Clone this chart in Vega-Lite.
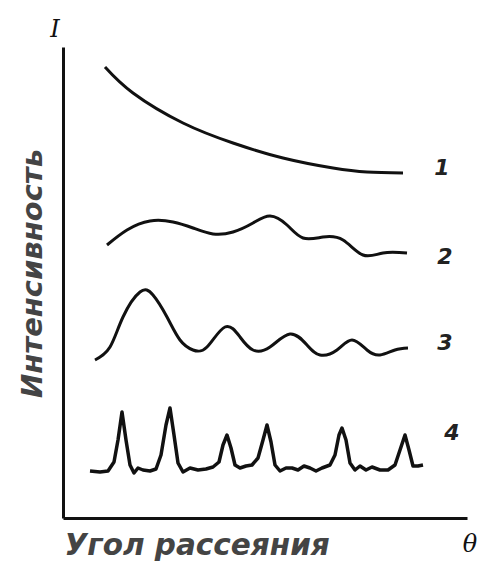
{
  "$schema": "https://vega.github.io/schema/vega-lite/v6.json",
  "width": 404,
  "height": 471,
  "autosize": {"type": "none"},
  "padding": {"left": 63, "top": 47, "right": 16, "bottom": 49},
  "background": "white",
  "config": {"view": {"stroke": null}},
  "datasets": {
    "curves": [
      {"curve": "1", "theta": 42, "I": 451},
      {"curve": "1", "theta": 70, "I": 425},
      {"curve": "1", "theta": 120, "I": 395},
      {"curve": "1", "theta": 170, "I": 375},
      {"curve": "1", "theta": 220, "I": 360},
      {"curve": "1", "theta": 270, "I": 350},
      {"curve": "1", "theta": 304, "I": 346},
      {"curve": "1", "theta": 340, "I": 345},
      {"curve": "2", "theta": 44, "I": 273},
      {"curve": "2", "theta": 64, "I": 288},
      {"curve": "2", "theta": 87, "I": 297},
      {"curve": "2", "theta": 110, "I": 296},
      {"curve": "2", "theta": 130, "I": 290},
      {"curve": "2", "theta": 150, "I": 284},
      {"curve": "2", "theta": 170, "I": 286},
      {"curve": "2", "theta": 190, "I": 295},
      {"curve": "2", "theta": 207, "I": 302},
      {"curve": "2", "theta": 224, "I": 293},
      {"curve": "2", "theta": 240, "I": 280},
      {"curve": "2", "theta": 260, "I": 281},
      {"curve": "2", "theta": 280, "I": 278},
      {"curve": "2", "theta": 300, "I": 263},
      {"curve": "2", "theta": 320, "I": 265},
      {"curve": "2", "theta": 344, "I": 265},
      {"curve": "3", "theta": 32, "I": 158},
      {"curve": "3", "theta": 47, "I": 171},
      {"curve": "3", "theta": 60, "I": 201},
      {"curve": "3", "theta": 77, "I": 226},
      {"curve": "3", "theta": 90, "I": 223},
      {"curve": "3", "theta": 104, "I": 201},
      {"curve": "3", "theta": 117, "I": 178},
      {"curve": "3", "theta": 130, "I": 168},
      {"curve": "3", "theta": 144, "I": 171},
      {"curve": "3", "theta": 162, "I": 191},
      {"curve": "3", "theta": 177, "I": 181},
      {"curve": "3", "theta": 190, "I": 168},
      {"curve": "3", "theta": 207, "I": 171},
      {"curve": "3", "theta": 227, "I": 184},
      {"curve": "3", "theta": 244, "I": 173},
      {"curve": "3", "theta": 257, "I": 163},
      {"curve": "3", "theta": 274, "I": 168},
      {"curve": "3", "theta": 289, "I": 178},
      {"curve": "3", "theta": 304, "I": 168},
      {"curve": "3", "theta": 317, "I": 163},
      {"curve": "3", "theta": 332, "I": 168},
      {"curve": "3", "theta": 345, "I": 170},
      {"curve": "4", "theta": 27, "I": 47},
      {"curve": "4", "theta": 37, "I": 46},
      {"curve": "4", "theta": 45, "I": 47},
      {"curve": "4", "theta": 51, "I": 56},
      {"curve": "4", "theta": 55, "I": 78},
      {"curve": "4", "theta": 59, "I": 106},
      {"curve": "4", "theta": 63, "I": 78},
      {"curve": "4", "theta": 67, "I": 53},
      {"curve": "4", "theta": 71, "I": 45},
      {"curve": "4", "theta": 75, "I": 50},
      {"curve": "4", "theta": 80, "I": 48},
      {"curve": "4", "theta": 87, "I": 47},
      {"curve": "4", "theta": 93, "I": 49},
      {"curve": "4", "theta": 98, "I": 63},
      {"curve": "4", "theta": 103, "I": 93},
      {"curve": "4", "theta": 107, "I": 110},
      {"curve": "4", "theta": 111, "I": 83},
      {"curve": "4", "theta": 115, "I": 55},
      {"curve": "4", "theta": 120, "I": 46},
      {"curve": "4", "theta": 127, "I": 50},
      {"curve": "4", "theta": 135, "I": 48},
      {"curve": "4", "theta": 143, "I": 49},
      {"curve": "4", "theta": 150, "I": 51},
      {"curve": "4", "theta": 156, "I": 56},
      {"curve": "4", "theta": 160, "I": 73},
      {"curve": "4", "theta": 164, "I": 83},
      {"curve": "4", "theta": 168, "I": 70},
      {"curve": "4", "theta": 172, "I": 53},
      {"curve": "4", "theta": 177, "I": 50},
      {"curve": "4", "theta": 183, "I": 52},
      {"curve": "4", "theta": 189, "I": 53},
      {"curve": "4", "theta": 195, "I": 60},
      {"curve": "4", "theta": 200, "I": 78},
      {"curve": "4", "theta": 204, "I": 93},
      {"curve": "4", "theta": 208, "I": 76},
      {"curve": "4", "theta": 212, "I": 53},
      {"curve": "4", "theta": 217, "I": 47},
      {"curve": "4", "theta": 223, "I": 50},
      {"curve": "4", "theta": 229, "I": 50},
      {"curve": "4", "theta": 235, "I": 48},
      {"curve": "4", "theta": 241, "I": 52},
      {"curve": "4", "theta": 247, "I": 50},
      {"curve": "4", "theta": 253, "I": 47},
      {"curve": "4", "theta": 259, "I": 50},
      {"curve": "4", "theta": 267, "I": 53},
      {"curve": "4", "theta": 272, "I": 63},
      {"curve": "4", "theta": 276, "I": 83},
      {"curve": "4", "theta": 279, "I": 90},
      {"curve": "4", "theta": 283, "I": 78},
      {"curve": "4", "theta": 287, "I": 55},
      {"curve": "4", "theta": 292, "I": 48},
      {"curve": "4", "theta": 297, "I": 52},
      {"curve": "4", "theta": 303, "I": 48},
      {"curve": "4", "theta": 309, "I": 51},
      {"curve": "4", "theta": 317, "I": 48},
      {"curve": "4", "theta": 325, "I": 48},
      {"curve": "4", "theta": 332, "I": 53},
      {"curve": "4", "theta": 337, "I": 68},
      {"curve": "4", "theta": 342, "I": 83},
      {"curve": "4", "theta": 346, "I": 68},
      {"curve": "4", "theta": 350, "I": 52},
      {"curve": "4", "theta": 355, "I": 52},
      {"curve": "4", "theta": 360, "I": 53}
    ],
    "labels": [
      {"text": "1", "theta": 379, "I": 350},
      {"text": "2", "theta": 382, "I": 261},
      {"text": "3", "theta": 382, "I": 175},
      {"text": "4", "theta": 389, "I": 85}
    ],
    "symbols": [
      {"text": "I", "theta": -8, "I": 488},
      {"text": "θ", "theta": 407, "I": -27}
    ]
  },
  "layer": [
    {
      "data": {"name": "curves"},
      "transform": [{"filter": "datum.curve != '4'"}],
      "mark": {"type": "line", "interpolate": "natural", "color": "#111111", "strokeWidth": 3, "clip": false},
      "encoding": {
        "x": {"field": "theta", "type": "quantitative", "scale": {"domain": [0, 404], "nice": false, "zero": false},
          "axis": {"domain": true, "domainColor": "#111111", "domainWidth": 3, "ticks": false, "labels": false, "grid": false,
            "title": "Угол рассеяния", "titleFont": "DejaVu Sans", "titleFontStyle": "italic", "titleFontWeight": "bold",
            "titleFontSize": 29.5, "titleColor": "#444444", "titleAlign": "left", "titleAnchor": "start", "titleBaseline": "middle",
            "titleX": 1, "titleY": 27}},
        "y": {"field": "I", "type": "quantitative", "scale": {"domain": [0, 471], "nice": false, "zero": false},
          "axis": {"domain": true, "domainColor": "#111111", "domainWidth": 3, "ticks": false, "labels": false, "grid": false,
            "title": "Интенсивность", "titleFont": "DejaVu Sans", "titleFontStyle": "italic", "titleFontWeight": "bold",
            "titleFontSize": 29, "titleColor": "#444444", "titleAngle": 270, "titleAlign": "center", "titleBaseline": "middle",
            "titleX": -31, "titleY": 226}},
        "detail": {"field": "curve"}
      }
    },
    {
      "data": {"name": "curves"},
      "transform": [{"filter": "datum.curve == '4'"}],
      "mark": {"type": "line", "interpolate": "linear", "color": "#111111", "strokeWidth": 3.5, "strokeJoin": "round", "clip": false},
      "encoding": {
        "x": {"field": "theta", "type": "quantitative"},
        "y": {"field": "I", "type": "quantitative"}
      }
    },
    {
      "data": {"name": "labels"},
      "mark": {"type": "text", "font": "DejaVu Sans", "fontStyle": "italic", "fontWeight": "bold", "fontSize": 22, "color": "#222222", "align": "center", "baseline": "middle", "clip": false},
      "encoding": {
        "x": {"field": "theta", "type": "quantitative"},
        "y": {"field": "I", "type": "quantitative"},
        "text": {"field": "text"}
      }
    },
    {
      "data": {"name": "symbols"},
      "mark": {"type": "text", "font": "DejaVu Serif", "fontStyle": "italic", "fontSize": 24, "color": "#111111", "align": "center", "baseline": "middle", "clip": false},
      "encoding": {
        "x": {"field": "theta", "type": "quantitative"},
        "y": {"field": "I", "type": "quantitative"},
        "text": {"field": "text"}
      }
    }
  ]
}
